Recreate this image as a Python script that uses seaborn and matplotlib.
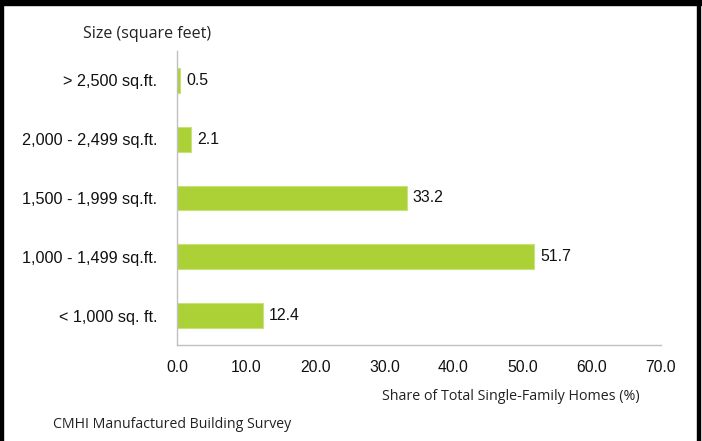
import matplotlib
matplotlib.use("Agg")
import pandas as pd
import seaborn as sns
import matplotlib.pyplot as plt
from matplotlib.patches import Rectangle

# Share of single-family homes by size (%)
sizes = ["> 2,500 sq.ft.", "2,000 - 2,499 sq.ft.", "1,500 - 1,999 sq.ft.",
         "1,000 - 1,499 sq.ft.", "< 1,000 sq. ft."]
shares = [0.5, 2.1, 33.2, 51.7, 12.4]
xticks = [0, 10, 20, 30, 40, 50, 60, 70]

df = pd.DataFrame({"size": sizes, "share": shares})

sns.set_style("white")
plt.rcParams["font.family"] = ["Liberation Sans", "DejaVu Sans"]

fig = plt.figure(figsize=(7.02, 4.41), dpi=100)
ax = fig.add_axes([0.2521, 0.2177, 0.6895, 0.6667])

sns.barplot(data=df, x="share", y="size", color="#acd137", width=0.42,
            edgecolor="#c8e27a", linewidth=0.8, saturation=1, ax=ax)

for i, v in enumerate(shares):
    ax.text(v + 0.9, i, f"{v:.1f}", va="center", ha="left", fontsize=11.4, color="#111111")

ax.set_xlim(0, 70)
ax.set_ylim(4.5, -0.5)
ax.set_xticks(xticks)
ax.set_xticklabels([f"{t:.1f}" for t in xticks], fontsize=11.3)
ax.set_yticks(range(len(sizes)))
ax.set_yticklabels(sizes, fontsize=11.7)
ax.set_yticks([i - 0.5 for i in range(len(sizes) + 1)], minor=True)
ax.tick_params(axis="y", which="major", length=0, pad=14, colors="#111111")
ax.tick_params(axis="y", which="minor", length=5, color="#c0c0c0", width=1)
ax.tick_params(axis="x", length=5, width=1, pad=6, colors="#111111")
ax.tick_params(axis="x", color="#c0c0c0")
ax.set_xlabel("")
ax.set_ylabel("")
for s in ["top", "right"]:
    ax.spines[s].set_visible(False)
for s in ["left", "bottom"]:
    ax.spines[s].set_color("#c0c0c0")
    ax.spines[s].set_linewidth(1)

label_font = ["Open Sans", "DejaVu Sans"]
fig.text(83 / 702, 1 - 34 / 441, "Size (square feet)", fontsize=11.5, family=label_font,
         va="center", ha="left", color="#222222")
fig.text(640 / 702, 1 - 396 / 441, "Share of Total Single-Family Homes (%)", fontsize=10.3,
         family=label_font, va="center", ha="right", color="#222222")
fig.text(53 / 702, 1 - 424 / 441, "CMHI Manufactured Building Survey", fontsize=10.2,
         family=label_font, va="center", ha="left", color="#222222")

# frame around the panel
fig.patches.append(Rectangle((0, 1 - 5 / 441), 1, 5 / 441, transform=fig.transFigure,
                             color="black", zorder=10))
fig.patches.append(Rectangle((0, 0), 3 / 702, 1, transform=fig.transFigure,
                             color="black", zorder=10))
fig.patches.append(Rectangle((697 / 702, 0), 3 / 702, 1, transform=fig.transFigure,
                             color="black", zorder=10))

fig.savefig("out.png", dpi=100)
